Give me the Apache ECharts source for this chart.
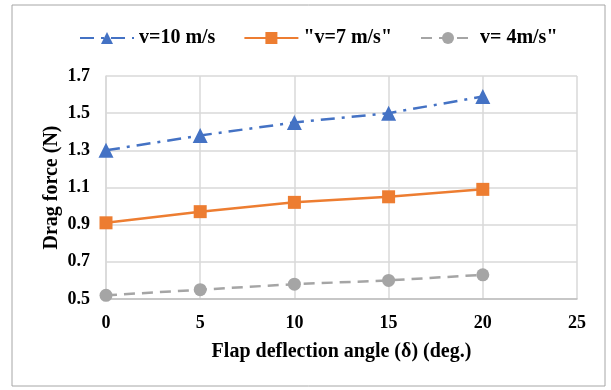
<!DOCTYPE html>
<html>
<head>
<meta charset="utf-8">
<script src="https://cdn.jsdelivr.net/npm/echarts@6/dist/echarts.min.js"></script>
<style>
html, body { margin: 0; padding: 0; background: #fff; }
#main { width: 611px; height: 390px; }
</style>
</head>
<body>
<div id="main"></div>
<script>
const angles = [0, 5, 10, 15, 20]
const v10 = [1.30, 1.38, 1.45, 1.50, 1.59]
const v7 = [0.91, 0.97, 1.02, 1.05, 1.09]
const v4 = [0.52, 0.55, 0.58, 0.60, 0.63]
const seriesNames = ['v=10 m/s', '"v=7 m/s"', 'v= 4m/s"']

const font = '"Liberation Serif", "Times New Roman", serif'
const pairs = arr => angles.map((a, i) => [a, arr[i]])

const chart = echarts.init(document.getElementById('main'))
chart.setOption({
    animation: false,
    textStyle: { fontFamily: font },
    graphic: [{
        type: 'rect',
        shape: { x: 12, y: 5, width: 593, height: 381 },
        style: { fill: 'none', stroke: '#a6a6a6', lineWidth: 1 },
    }],
    legend: {
        top: 23,
        left: 74,
        itemWidth: 54,
        itemHeight: 15,
        itemGap: 28,
        textStyle: { fontFamily: font, fontWeight: 'bold', fontSize: 20, color: '#000' },
        data: seriesNames,
    },
    grid: { left: 106, right: 34, top: 76, bottom: 91 },
    xAxis: {
        type: 'value',
        min: 0,
        max: 25,
        interval: 5,
        name: 'Flap deflection angle (δ) (deg.)',
        nameLocation: 'middle',
        nameGap: 43,
        nameMoveOverlap: false,
        nameTextStyle: { fontFamily: font, fontWeight: 'bold', fontSize: 20, color: '#000' },
        axisLine: { show: true, lineStyle: { color: '#bfbfbf', width: 1.5 } },
        axisTick: { show: false },
        axisLabel: { margin: 15, fontFamily: font, fontWeight: 'bold', fontSize: 18, color: '#000' },
        splitLine: { show: true, lineStyle: { color: '#d9d9d9', width: 1.5 } },
    },
    yAxis: {
        type: 'value',
        min: 0.5,
        max: 1.7,
        interval: 0.2,
        name: 'Drag force (N)',
        nameLocation: 'middle',
        nameGap: 44,
        nameMoveOverlap: false,
        nameTextStyle: { fontFamily: font, fontWeight: 'bold', fontSize: 20, color: '#000' },
        axisLine: { show: true, lineStyle: { color: '#d9d9d9', width: 1.5 } },
        axisTick: { show: false },
        axisLabel: {
            margin: 16,
            fontFamily: font, fontWeight: 'bold', fontSize: 18, color: '#000',
            formatter: v => v.toFixed(1),
        },
        splitLine: { show: true, lineStyle: { color: '#d9d9d9', width: 1.5 } },
    },
    series: [
        {
            name: seriesNames[0],
            type: 'line',
            data: pairs(v10),
            symbol: 'triangle',
            symbolSize: 15,
            itemStyle: { color: '#4472c4' },
            lineStyle: { color: '#4472c4', width: 2.5, type: [14, 7, 3, 7] },
        },
        {
            name: seriesNames[1],
            type: 'line',
            data: pairs(v7),
            symbol: 'rect',
            symbolSize: 13,
            itemStyle: { color: '#ed7d31' },
            lineStyle: { color: '#ed7d31', width: 2.5 },
        },
        {
            name: seriesNames[2],
            type: 'line',
            data: pairs(v4),
            symbol: 'circle',
            symbolSize: 13,
            itemStyle: { color: '#a5a5a5' },
            lineStyle: { color: '#a5a5a5', width: 2.5, type: [11, 7] },
        },
    ],
})
</script>
</body>
</html>
